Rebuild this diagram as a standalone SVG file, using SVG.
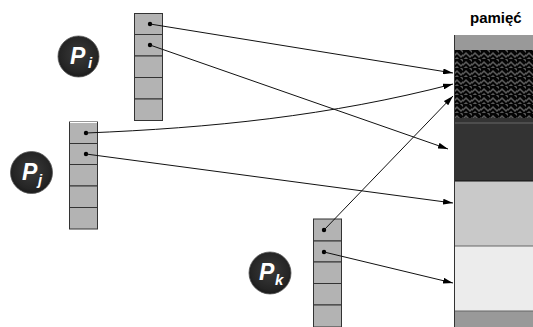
<svg xmlns="http://www.w3.org/2000/svg" width="533" height="327" viewBox="0 0 533 327">
<defs>
<style>
.cell{fill:#b3b3b3;stroke:#333;stroke-width:1}
.conn{fill:none;stroke:#111;stroke-width:1}
.dot{fill:#000}
.ball{fill:url(#ball);stroke:#555;stroke-width:0.8}
.lbl{font-family:"Liberation Sans",Arial,sans-serif;font-weight:bold;font-style:italic;fill:#fff}
.big{font-size:23px}
.sub{font-size:15px}
.title{font-family:"Liberation Sans",Arial,sans-serif;font-weight:bold;font-size:15px;fill:#000}
</style>
<radialGradient id="ball" cx="50%" cy="45%" r="55%">
<stop offset="0" stop-color="#3a3a3a"/>
<stop offset="0.8" stop-color="#252525"/>
<stop offset="1" stop-color="#1a1a1a"/>
</radialGradient>
<pattern id="weave" width="9" height="9" patternUnits="userSpaceOnUse" x="454" y="50">
<rect width="9" height="9" fill="#050505"/>
<path d="M-1,7 L3,3 L7,7 L10,4 M-1,-2 L3,-6 M6,-1 L10,3 M-2,12 L3,8 L7,12" fill="none" stroke="#5c5c5c" stroke-width="1.5"/>
</pattern>
<marker id="arr" viewBox="0 0 10 6" refX="10" refY="3" markerWidth="10" markerHeight="6" markerUnits="userSpaceOnUse" orient="auto">
<path d="M0,0 L10,3 L0,6 Z" fill="#000"/>
</marker>
</defs>
<rect width="533" height="327" fill="#fff"/>

<g id="memory">
<text class="title" x="470" y="23">pamięć</text>
<rect x="454" y="35" width="80" height="15" fill="#999"/>
<rect x="454" y="50" width="80" height="68" fill="url(#weave)"/>
<rect x="454" y="118" width="80" height="63" fill="#333"/>
<line x1="454" y1="123" x2="534" y2="123" stroke="#777" stroke-width="0.8"/>
<rect x="454" y="181" width="80" height="65" fill="#c9c9c9"/>
<rect x="454" y="246" width="80" height="65" fill="#ececec"/>
<rect x="454" y="311" width="80" height="16" fill="#999"/>
<line x1="454" y1="181" x2="534" y2="181" stroke="#111"/>
<line x1="454" y1="246" x2="534" y2="246" stroke="#666"/>
<line x1="454" y1="311" x2="534" y2="311" stroke="#666"/>
<line x1="454.5" y1="35" x2="454.5" y2="327" stroke="#333"/>
</g>

<g id="Pi">
<circle class="ball" cx="78.5" cy="56.5" r="20.5"/>
<text class="lbl big" x="70" y="64">P</text>
<text class="lbl sub" x="88" y="68">i</text>
</g>
<g id="table-i">
<rect class="cell" x="134.5" y="13.5" width="28" height="21"/>
<rect class="cell" x="134.5" y="34.5" width="28" height="21.5"/>
<rect class="cell" x="134.5" y="56" width="28" height="21.5"/>
<rect class="cell" x="134.5" y="77.5" width="28" height="21.5"/>
<rect class="cell" x="134.5" y="99" width="28" height="21.5"/>
<circle class="dot" cx="150" cy="24" r="2.2"/>
<circle class="dot" cx="150" cy="45" r="2.2"/>
</g>

<g id="Pj">
<circle class="ball" cx="31.5" cy="172.5" r="21"/>
<text class="lbl big" x="22" y="180">P</text>
<text class="lbl sub" x="38" y="185">j</text>
</g>
<g id="table-j">
<rect class="cell" x="69.5" y="122" width="28" height="21.5"/>
<rect class="cell" x="69.5" y="143.5" width="28" height="21"/>
<rect class="cell" x="69.5" y="164.5" width="28" height="21.5"/>
<rect class="cell" x="69.5" y="186" width="28" height="21.5"/>
<rect class="cell" x="69.5" y="207.5" width="28" height="21.5"/>
<line x1="70" y1="122.5" x2="97" y2="122.5" stroke="#fff"/>
<circle class="dot" cx="86" cy="133" r="2.2"/>
<circle class="dot" cx="86" cy="154" r="2.2"/>
</g>

<g id="Pk">
<circle class="ball" cx="270" cy="273" r="21"/>
<text class="lbl big" x="259" y="280">P</text>
<text class="lbl sub" x="275" y="285">k</text>
</g>
<g id="table-k">
<rect class="cell" x="313.5" y="219" width="28" height="22"/>
<rect class="cell" x="313.5" y="241" width="28" height="21"/>
<rect class="cell" x="313.5" y="262" width="28" height="21.5"/>
<rect class="cell" x="313.5" y="283.5" width="28" height="21.5"/>
<rect class="cell" x="313.5" y="305" width="28" height="22"/>
<circle class="dot" cx="324" cy="230" r="2.2"/>
<circle class="dot" cx="324" cy="252" r="2.2"/>
</g>

<g id="connectors">
<path class="conn" d="M150,24 L453,73" marker-end="url(#arr)"/>
<path class="conn" d="M150,45 L448,149" marker-end="url(#arr)"/>
<path class="conn" d="M86,133 C210,128 330,116 453,84" marker-end="url(#arr)"/>
<path class="conn" d="M86,154 L453,203" marker-end="url(#arr)"/>
<path class="conn" d="M324,230 L453,96" marker-end="url(#arr)"/>
<path class="conn" d="M324,252 L453,283" marker-end="url(#arr)"/>
</g>
</svg>
